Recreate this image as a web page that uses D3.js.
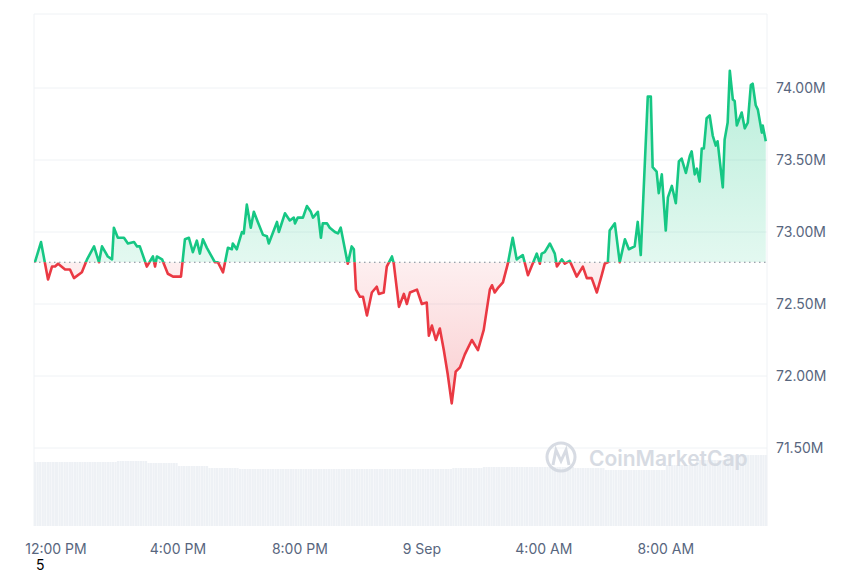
<!DOCTYPE html>
<html>
<head>
<meta charset="utf-8">
<script src="https://cdn.jsdelivr.net/npm/d3@7"></script>
<style>
  body { margin: 0; background: #fff; }
  text { font-family: Inter, "Noto Sans", sans-serif; }
</style>
</head>
<body>
<svg id="chart" width="860" height="573"></svg>
<script>
// DATA: hours relative to 12:00 PM, price in millions
const hours = [-0.69,-0.49,-0.26,-0.13,-0.03,0.07,0.30,0.46,0.59,0.85,1.02,1.25,1.41,1.51,1.70,1.84,1.90,2.03,2.23,2.36,2.56,2.66,2.75,2.98,3.18,3.25,3.31,3.48,3.67,3.84,4.10,4.23,4.36,4.49,4.62,4.72,4.82,4.95,5.21,5.31,5.48,5.64,5.77,5.80,5.93,6.10,6.16,6.26,6.39,6.49,6.62,6.79,6.92,6.98,7.25,7.31,7.51,7.67,7.80,7.84,7.93,8.10,8.23,8.36,8.43,8.59,8.69,8.75,8.89,8.98,9.15,9.25,9.34,9.57,9.70,9.77,9.84,9.97,10.07,10.20,10.36,10.52,10.59,10.75,10.85,11.02,11.08,11.25,11.41,11.51,11.61,11.84,12.00,12.16,12.23,12.33,12.46,12.59,12.72,12.85,12.98,13.11,13.25,13.41,13.64,13.84,14.03,14.23,14.30,14.39,14.49,14.66,14.82,14.98,15.11,15.31,15.48,15.77,15.87,15.93,16.03,16.20,16.36,16.43,16.59,16.69,16.85,17.08,17.28,17.41,17.57,17.74,17.90,18.00,18.10,18.16,18.33,18.49,18.66,18.79,18.98,19.08,19.18,19.41,19.51,19.57,19.70,19.77,19.87,20.00,20.07,20.20,20.33,20.43,20.52,20.66,20.79,20.85,20.95,21.02,21.11,21.18,21.25,21.34,21.44,21.54,21.64,21.70,21.87,21.93,22.03,22.10,22.20,22.26,22.33,22.49,22.59,22.69,22.79,22.85,22.95,23.02,23.15,23.18,23.28];
const prices = [72.79,72.93,72.67,72.76,72.76,72.78,72.74,72.74,72.68,72.72,72.81,72.90,72.79,72.90,72.83,72.81,73.03,72.96,72.96,72.92,72.93,72.90,72.90,72.76,72.83,72.76,72.83,72.81,72.71,72.69,72.69,72.95,72.96,72.86,72.94,72.85,72.95,72.89,72.79,72.79,72.72,72.89,72.88,72.92,72.88,73.00,72.99,73.19,73.03,73.14,73.07,72.98,72.97,72.92,73.07,73.00,73.13,73.08,73.10,73.06,73.10,73.10,73.18,73.14,73.10,73.14,72.96,73.06,73.06,73.03,73.00,72.99,73.03,72.78,72.90,72.88,72.60,72.55,72.55,72.42,72.58,72.62,72.57,72.58,72.76,72.83,72.78,72.48,72.57,72.50,72.58,72.60,72.50,72.51,72.28,72.35,72.25,72.33,72.18,72.01,71.81,72.03,72.06,72.15,72.25,72.18,72.32,72.60,72.63,72.58,72.61,72.65,72.78,72.96,72.81,72.84,72.70,72.85,72.78,72.85,72.86,72.92,72.85,72.76,72.81,72.78,72.80,72.69,72.76,72.68,72.68,72.58,72.70,72.78,72.79,73.01,73.06,72.79,72.95,72.88,72.90,73.07,72.84,73.94,73.94,73.45,73.42,73.27,73.40,73.01,73.24,73.32,73.20,73.49,73.51,73.41,73.53,73.56,73.40,73.44,73.35,73.58,73.58,73.79,73.81,73.67,73.60,73.63,73.31,73.64,73.76,74.12,73.92,73.91,73.74,73.83,73.72,73.76,74.02,74.03,73.88,73.85,73.69,73.74,73.63];
// hourly volume (relative units)
const volHours = [-0.72,0,1,2,3,4,5,6,7,8,9,10,11,12,13,14,15,16,17,18,19,20,21,22,23];
const volumes = [64,64,64,65,63,60,58,57,57,57,57,57,57,57,58,59,59,59,58,56,56,61,66,71,71];
const yTicks = [71.5, 72.0, 72.5, 73.0, 73.5, 74.0];
const xTicks = [0, 4, 8, 12, 16, 20];
const xTickLabels = ["12:00 PM", "4:00 PM", "8:00 PM", "9 Sep", "4:00 AM", "8:00 AM"];

const green = "#16c784", red = "#ea3943";
const plot = { left: 34, right: 767, top: 14, bottom: 526 };
const svg = d3.select("#chart");

const x = d3.scaleLinear().domain([-0.72, 23.32]).range([plot.left, plot.right]);
const y = d3.scaleLinear().domain([71.5, 74.0]).range([448, 88]);
const yVol = d3.scaleLinear().domain([0, 80]).range([plot.bottom, plot.bottom - 80]);
const base = prices[0];
const data = hours.map((h, i) => ({ h, v: prices[i] }));

const defs = svg.append("defs");
const gG = defs.append("linearGradient").attr("id", "gGreen").attr("x1", 0).attr("x2", 0)
  .attr("gradientUnits", "userSpaceOnUse").attr("y1", y(74.1)).attr("y2", y(base));
gG.append("stop").attr("offset", 0).attr("stop-color", green).attr("stop-opacity", 0.3);
gG.append("stop").attr("offset", 1).attr("stop-color", green).attr("stop-opacity", 0.12);
const gR = defs.append("linearGradient").attr("id", "gRed").attr("x1", 0).attr("x2", 0)
  .attr("gradientUnits", "userSpaceOnUse").attr("y1", y(base)).attr("y2", y(71.8));
gR.append("stop").attr("offset", 0).attr("stop-color", red).attr("stop-opacity", 0.08);
gR.append("stop").attr("offset", 1).attr("stop-color", red).attr("stop-opacity", 0.25);
defs.append("clipPath").attr("id", "above").append("rect")
  .attr("x", plot.left).attr("y", plot.top).attr("width", plot.right - plot.left).attr("height", y(base) - plot.top);
defs.append("clipPath").attr("id", "below").append("rect")
  .attr("x", plot.left).attr("y", y(base)).attr("width", plot.right - plot.left).attr("height", plot.bottom - y(base));

// gridlines
svg.append("g").selectAll("line").data(yTicks).join("line")
  .attr("x1", plot.left).attr("x2", plot.right).attr("y1", d => y(d)).attr("y2", d => y(d))
  .attr("stroke", "#eff2f5");
svg.append("line").attr("x1", plot.left).attr("x2", plot.right).attr("y1", plot.top).attr("y2", plot.top).attr("stroke", "#eff2f5");
svg.append("line").attr("x1", plot.left).attr("x2", plot.left).attr("y1", plot.top).attr("y2", plot.bottom).attr("stroke", "#eff2f5");
svg.append("line").attr("x1", plot.right).attr("x2", plot.right).attr("y1", plot.top).attr("y2", plot.bottom).attr("stroke", "#eff2f5");

// volume
const bw = (x(1) - x(0)) / 12;
const volBars = [];
volHours.forEach((h, i) => {
  const next = i < volHours.length - 1 ? volHours[i + 1] : 23.32;
  for (let t = h; t < next - 1e-6; t += 1 / 12) volBars.push({ t, v: volumes[i] });
});
svg.append("g").selectAll("rect").data(volBars).join("rect")
  .attr("x", d => x(d.t)).attr("width", bw - 0.3)
  .attr("y", d => yVol(d.v)).attr("height", d => plot.bottom - yVol(d.v))
  .attr("fill", "#eef1f5");

// watermark
const wm = svg.append("g").attr("opacity", 0.9);
wm.append("circle").attr("cx", 561).attr("cy", 457).attr("r", 14).attr("fill", "none").attr("stroke", "#d3d8e0").attr("stroke-width", 3);
wm.append("path").attr("d", "M553,465 L556,450 L561,461 L566,450 L569,465").attr("fill", "none").attr("stroke", "#d3d8e0").attr("stroke-width", 3);
wm.append("text").attr("x", 589).attr("y", 466).attr("font-size", 21).attr("font-weight", 600).attr("fill", "#d3d8e0").text("CoinMarketCap");

// areas
const area = d3.area().x(d => x(d.h)).y0(y(base)).y1(d => y(d.v));
const line = d3.line().x(d => x(d.h)).y(d => y(d.v));
svg.append("path").datum(data).attr("d", area).attr("fill", "url(#gGreen)").attr("clip-path", "url(#above)");
svg.append("path").datum(data).attr("d", area).attr("fill", "url(#gRed)").attr("clip-path", "url(#below)");

// baseline
svg.append("line").attr("x1", plot.left).attr("x2", plot.right).attr("y1", y(base)).attr("y2", y(base))
  .attr("stroke", "#7d8695").attr("stroke-dasharray", "1.5,3.5").attr("stroke-width", 1.2);

svg.append("path").datum(data).attr("d", line).attr("fill", "none").attr("stroke", green)
  .attr("stroke-width", 2.6).attr("stroke-linejoin", "round").attr("clip-path", "url(#above)");
svg.append("path").datum(data).attr("d", line).attr("fill", "none").attr("stroke", red)
  .attr("stroke-width", 2.6).attr("stroke-linejoin", "round").attr("clip-path", "url(#below)");

// y axis labels
svg.append("g").selectAll("text").data(yTicks).join("text")
  .attr("x", 776).attr("y", d => y(d) + 5).attr("font-size", 14).attr("fill", "#58667e")
  .text(d => d3.format(".2f")(d) + "M");

// x axis labels
svg.append("g").selectAll("text").data(xTicks).join("text")
  .attr("x", d => x(d)).attr("y", 554).attr("text-anchor", "middle").attr("font-size", 14).attr("fill", "#58667e")
  .text((d, i) => xTickLabels[i]);

svg.append("text").attr("x", 36).attr("y", 570).attr("font-size", 14).attr("fill", "#000").text("5");
</script>
</body>
</html>
